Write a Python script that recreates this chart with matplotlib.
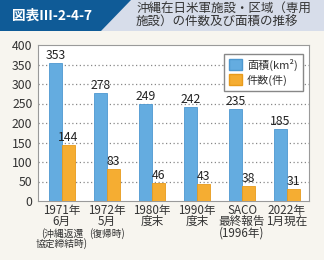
import matplotlib.pyplot as plt
from matplotlib.patches import Polygon, Patch
import numpy as np

plt.rcParams['font.family'] = ['Noto Sans CJK JP', 'DejaVu Sans']

# data
area = [353, 278, 249, 242, 235, 185]
count = [144, 83, 46, 43, 38, 31]
main_labels = ["1971年\n6月", "1972年\n5月", "1980年\n度末", "1990年\n度末",
               "SACO\n最終報告\n(1996年)", "2022年\n1月現在"]
sub_labels = ["(沖縄返還\n協定締結時)", "(復帰時)", "", "", "", ""]
title_id = "図表Ⅲ-2-4-7"
title_text = "沖縄在日米軍施設・区域（専用\n施設）の件数及び面積の推移"
legend_labels = ["面積(km²)", "件数(件)"]

blue = '#64ace0'
orange = '#f5ad32'
W, H = 324, 260

fig = plt.figure(figsize=(W / 100, H / 100), dpi=100)
fig.patch.set_facecolor('#f7f5ef')


def fx(px):
    return px / W


def fy(py):
    return 1 - py / H


# header band
fig.add_artist(Polygon([(0, fy(0)), (1, fy(0)), (1, fy(31)), (0, fy(31))],
                       closed=True, transform=fig.transFigure,
                       facecolor='#d7ddea', edgecolor='none'))
fig.add_artist(Polygon([(0, fy(0)), (fx(131), fy(0)), (fx(101), fy(31)), (0, fy(31))],
                       closed=True, transform=fig.transFigure,
                       facecolor='#0f5b97', edgecolor='none'))
fig.text(fx(12), fy(15.5), title_id, color='white', fontsize=9.8,
         fontweight='bold', va='center', ha='left')
fig.text(fx(136), fy(16), title_text, color='#333333', fontsize=9,
         va='center', ha='left', linespacing=1.0)

ax = fig.add_axes([fx(38), fy(201), fx(309) - fx(38), (201 - 45) / H])
ax.set_facecolor('white')

x = np.arange(len(area))
bw = 0.29
ax.bar(x - bw / 2, area, bw, color=blue, edgecolor='#4d98d0', linewidth=0.6, zorder=3)
ax.bar(x + bw / 2, count, bw, color=orange, edgecolor='#e89b1c', linewidth=0.6, zorder=3)

for i in range(len(area)):
    ax.annotate(str(area[i]), xy=(x[i] - bw / 2, area[i]), xytext=(0, 1),
                textcoords='offset pixels', ha='center', va='bottom',
                fontsize=8.8, color='#222222', zorder=4)
    ax.annotate(str(count[i]), xy=(x[i] + bw / 2, count[i]), xytext=(0, 1),
                textcoords='offset pixels', ha='center', va='bottom',
                fontsize=8.8, color='#222222', zorder=4)

ax.set_xlim(-0.53, 5.49)
ax.set_ylim(0, 400)
ax.set_yticks(range(0, 401, 50))
ax.set_xticks([])
ax.tick_params(axis='y', length=0, pad=4, labelsize=8.8, labelcolor='#333333')
for s in ax.spines.values():
    s.set_color('#9a9a9a')
    s.set_linewidth(0.8)
for v in range(50, 400, 50):
    ax.axhline(v, color='#888888', linewidth=0.9, linestyle=(0, (1, 2)), zorder=1)

# category labels
for i in range(len(x)):
    ax.annotate(main_labels[i], xy=(x[i], 0), xycoords=('data', 'axes fraction'),
                xytext=(0, -3), textcoords='offset pixels',
                ha='center', va='top', fontsize=8.4, color='#333333',
                linespacing=0.82)
    if sub_labels[i]:
        ax.annotate(sub_labels[i], xy=(x[i], 0), xycoords=('data', 'axes fraction'),
                    xytext=(0, -27), textcoords='offset pixels',
                    ha='center', va='top', fontsize=7, color='#333333',
                    linespacing=0.95)

handles = [Patch(facecolor=blue, edgecolor='#4d98d0'),
           Patch(facecolor=orange, edgecolor='#e89b1c')]
leg = ax.legend(handles, legend_labels, loc='upper right',
                bbox_to_anchor=(0.997, 0.98), fontsize=8, fancybox=False,
                edgecolor='#888888', framealpha=1, handlelength=1.15,
                handleheight=1.15, handletextpad=0.45, borderpad=0.45,
                labelspacing=0.3)
for t in leg.get_texts():
    t.set_color('#333333')

fig.savefig('out.png', dpi=100, facecolor=fig.get_facecolor())
